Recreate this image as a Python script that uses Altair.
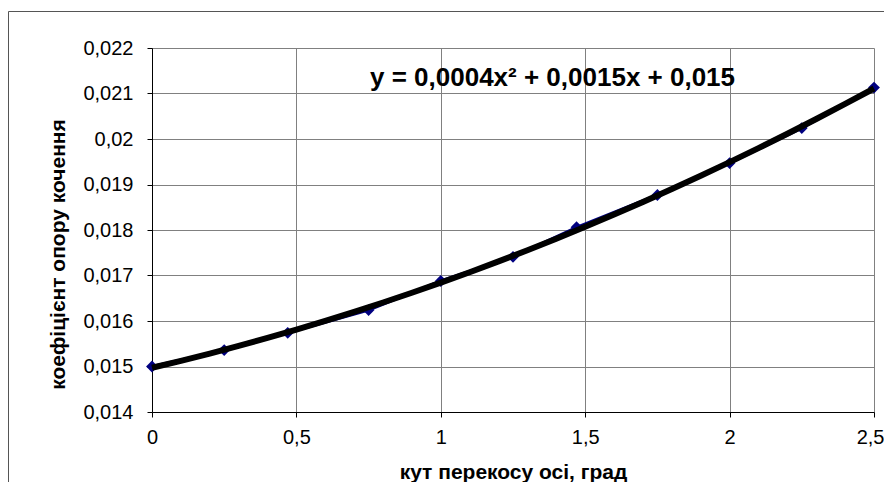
import altair as alt
import pandas as pd

# data
angle = [0, 0.25, 0.47, 0.75, 1.0, 1.25, 1.47, 1.75, 2.0, 2.25, 2.5]
coef = [0.0150, 0.01536, 0.01574, 0.01624, 0.01688, 0.01741, 0.01806, 0.01877, 0.01947, 0.02024, 0.02113]
x_ticks = [0, 0.5, 1.0, 1.5, 2.0, 2.5]
y_ticks = [0.014, 0.015, 0.016, 0.017, 0.018, 0.019, 0.020, 0.021, 0.022]
equation = "y = 0,0004x² + 0,0015x + 0,015"
x_title = "кут перекосу осі, град"
y_title = "коефіцієнт опору кочення"

df = pd.DataFrame({"x": angle, "y": coef})

FONT = "Liberation Sans"

xenc = alt.X("x:Q", scale=alt.Scale(domain=[0, 2.5], nice=False, zero=False),
             axis=alt.Axis(values=x_ticks, title=x_title,
                           labelExpr="replace(format(datum.value, '.1~f'), '.', ',')",
                           labelAlign={"condition": {"test": "datum.value >= 2.5", "value": "right"}, "value": "center"},
                           labelOffset={"condition": {"test": "datum.value >= 2.5", "value": 10}, "value": 0},
                           labelPadding=10, titleY=60, titleBaseline="middle"))
yenc = alt.Y("y:Q", scale=alt.Scale(domain=[0.014, 0.022], nice=False, zero=False),
             axis=alt.Axis(values=y_ticks, title=y_title,
                           labelExpr="replace(format(datum.value, '.3~f'), '.', ',')",
                           labelPadding=14, titleX=-94, titleY=206,
                           titleBaseline="middle", titleAlign="center", titleAngle=270))

base = alt.Chart(df)

line = base.mark_line(color="#000080", strokeWidth=3).encode(x=xenc, y=yenc)
pts = base.mark_point(shape="diamond", filled=True, color="#000080", size=140, opacity=1).encode(x=xenc, y=yenc)
trend = base.transform_regression("x", "y", method="poly", order=2, extent=[0, 2.5]).mark_line(
    color="black", strokeWidth=6).encode(x=xenc, y=yenc)

eq = alt.Chart(pd.DataFrame({"t": [equation]})).mark_text(
    font=FONT, fontSize=26, fontWeight="bold", align="left", baseline="middle", color="black"
).encode(x=alt.value(218), y=alt.value(30), text="t:N")

border_v = alt.Chart(pd.DataFrame({"t": [equation]})).mark_rule(color="#555555", strokeWidth=1).encode(
    x=alt.value(-143.5), y=alt.value(-36.5), y2=alt.value(440))
border_h = alt.Chart(pd.DataFrame({"t": [equation]})).mark_rule(color="#555555", strokeWidth=1).encode(
    x=alt.value(-143.5), x2=alt.value(740), y=alt.value(-36.5))

chart = alt.layer(line, pts, trend, eq, border_v, border_h).properties(
    width=722, height=364,
    autosize=alt.AutoSizeParams(type="none"),
    padding={"left": 144, "top": 40, "right": 10, "bottom": 70},
).configure_view(stroke=None).configure_axis(
    grid=True, gridColor="#808080", gridWidth=1,
    domainColor="black", domainWidth=1,
    tickColor="black", tickSize=5, tickWidth=1,
    labelFont=FONT, labelFontSize=20, labelColor="black",
    titleFont=FONT, titleFontSize=21, titleFontWeight="bold", titleColor="black",
).configure_axisX(labelFlush=False)

chart.save("out.html", embed_options={"renderer": "svg", "actions": False})
